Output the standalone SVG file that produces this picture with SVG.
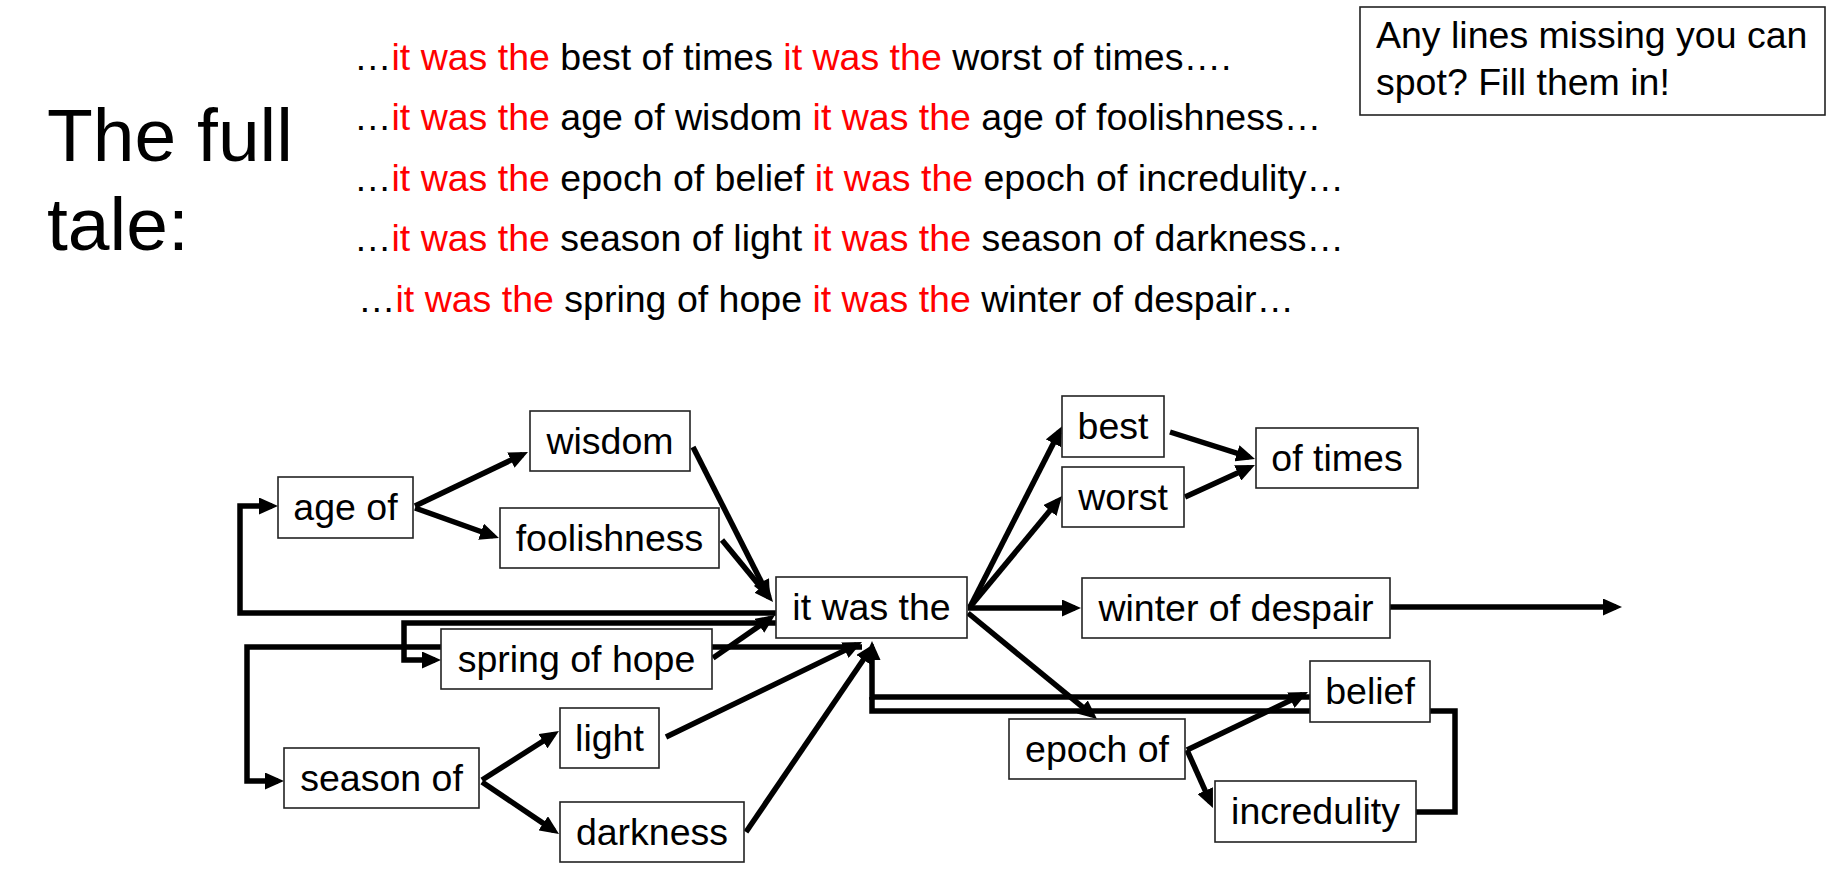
<svg xmlns="http://www.w3.org/2000/svg" width="1839" height="877" viewBox="0 0 1839 877">
<style>
text{font-family:"Liberation Sans",Arial,sans-serif;fill:#000}
.t{font-size:37.5px}
.title{font-size:75px}
.red{fill:#ff0000}
.box rect{fill:#fff;stroke:#222;stroke-width:1.6}
.box text{font-size:37.5px;text-anchor:middle}
.c{fill:none;stroke:#000;stroke-width:5.5;stroke-linejoin:miter}
.a{marker-end:url(#ah)}
</style>
<defs>
<marker id="ah" markerWidth="19" markerHeight="17" refX="13" refY="8.5" orient="auto" markerUnits="userSpaceOnUse">
<path d="M0,0 L19,8.5 L0,17 z" fill="#000"/>
</marker>
</defs>
<rect width="1839" height="877" fill="#fff"/>

<g id="title">
<text class="title" x="47" y="161">The full</text>
<text class="title" x="47" y="250">tale:</text>
</g>

<g id="tale-lines" class="t">
<text class="t" x="354" y="70" xml:space="preserve">…<tspan class="red">it was the</tspan> best of times <tspan class="red">it was the</tspan> worst of times….</text>
<text class="t" x="354" y="130" xml:space="preserve">…<tspan class="red">it was the</tspan> age of wisdom <tspan class="red">it was the</tspan> age of foolishness…</text>
<text class="t" x="354" y="191" xml:space="preserve">…<tspan class="red">it was the</tspan> epoch of belief <tspan class="red">it was the</tspan> epoch of incredulity…</text>
<text class="t" x="354" y="251" xml:space="preserve">…<tspan class="red">it was the</tspan> season of light <tspan class="red">it was the</tspan> season of darkness…</text>
<text class="t" x="358" y="312" xml:space="preserve">…<tspan class="red">it was the</tspan> spring of hope <tspan class="red">it was the</tspan> winter of despair…</text>
</g>

<g id="note">
<rect x="1360" y="7" width="465" height="108" fill="#fff" stroke="#222" stroke-width="1.6"/>
<text class="t" x="1376" y="48">Any lines missing you can</text>
<text class="t" x="1376" y="95">spot? Fill them in!</text>
</g>

<g id="connectors">
<line class="c a" x1="415" y1="506" x2="522.6" y2="454.6"/>
<line class="c a" x1="415" y1="508" x2="493.3" y2="536"/>
<line class="c a" x1="693" y1="447" x2="767.3" y2="593.6"/>
<line class="c a" x1="722" y1="540" x2="769.2" y2="597.4"/>
<line class="c a" x1="713" y1="658" x2="770.1" y2="618.4"/>
<polyline class="c a" points="776,613 240,613 240,506 272,506"/>
<polyline class="c a" points="776,623 404,623 404,660 435,660"/>
<polyline class="c a" points="862,647 247,647 247,781 278,781"/>
<line class="c a" x1="482" y1="780" x2="553.9" y2="734.2"/>
<line class="c a" x1="482" y1="782" x2="554" y2="830.6"/>
<line class="c a" x1="666" y1="737" x2="856.6" y2="644.6"/>
<line class="c a" x1="746" y1="832" x2="870.6" y2="649"/>
<polyline class="c" points="1416,812 1455,812 1455,711 872,711 872,697"/>
<polyline class="c a" points="1310,697 872,697 872,647"/>
<line class="c a" x1="970" y1="607" x2="1059.3" y2="431.7"/>
<line class="c a" x1="970" y1="607" x2="1058.2" y2="500.6"/>
<line class="c a" x1="968" y1="608" x2="1075" y2="608"/>
<line class="c a" x1="1390" y1="607" x2="1616" y2="607"/>
<line class="c a" x1="968" y1="613" x2="1092.4" y2="715.2"/>
<line class="c a" x1="1170" y1="432" x2="1249.3" y2="457.2"/>
<line class="c a" x1="1185" y1="497" x2="1249.5" y2="467.5"/>
<line class="c a" x1="1187" y1="750" x2="1302.6" y2="694.6"/>
<line class="c a" x1="1187" y1="750" x2="1210.5" y2="802.5"/>
</g>

<g id="n-wisdom" class="box"><rect x="530" y="411" width="160" height="60"/><text x="610" y="454">wisdom</text></g>
<g id="n-ageof" class="box"><rect x="278" y="477" width="135" height="61"/><text x="345.5" y="520">age of</text></g>
<g id="n-foolishness" class="box"><rect x="500" y="508" width="219" height="60"/><text x="609.5" y="551">foolishness</text></g>
<g id="n-itwasthe" class="box"><rect x="776" y="577" width="191" height="61"/><text x="871.5" y="620">it was the</text></g>
<g id="n-spring" class="box"><rect x="441" y="629" width="271" height="60"/><text x="576.5" y="672">spring of hope</text></g>
<g id="n-light" class="box"><rect x="560" y="708" width="99" height="60"/><text x="609.5" y="751">light</text></g>
<g id="n-seasonof" class="box"><rect x="284" y="748" width="195" height="60"/><text x="381.5" y="791">season of</text></g>
<g id="n-darkness" class="box"><rect x="560" y="802" width="184" height="60"/><text x="652" y="845">darkness</text></g>
<g id="n-best" class="box"><rect x="1062" y="396" width="102" height="61"/><text x="1113" y="439">best</text></g>
<g id="n-worst" class="box"><rect x="1062" y="467" width="122" height="60"/><text x="1123" y="510">worst</text></g>
<g id="n-oftimes" class="box"><rect x="1256" y="428" width="162" height="60"/><text x="1337" y="471">of times</text></g>
<g id="n-winter" class="box"><rect x="1082" y="578" width="308" height="60"/><text x="1236" y="621">winter of despair</text></g>
<g id="n-belief" class="box"><rect x="1310" y="661" width="120" height="61"/><text x="1370" y="704">belief</text></g>
<g id="n-epochof" class="box"><rect x="1009" y="719" width="176" height="60"/><text x="1097" y="762">epoch of</text></g>
<g id="n-incredulity" class="box"><rect x="1215" y="781" width="201" height="61"/><text x="1315.5" y="824">incredulity</text></g>
</svg>
